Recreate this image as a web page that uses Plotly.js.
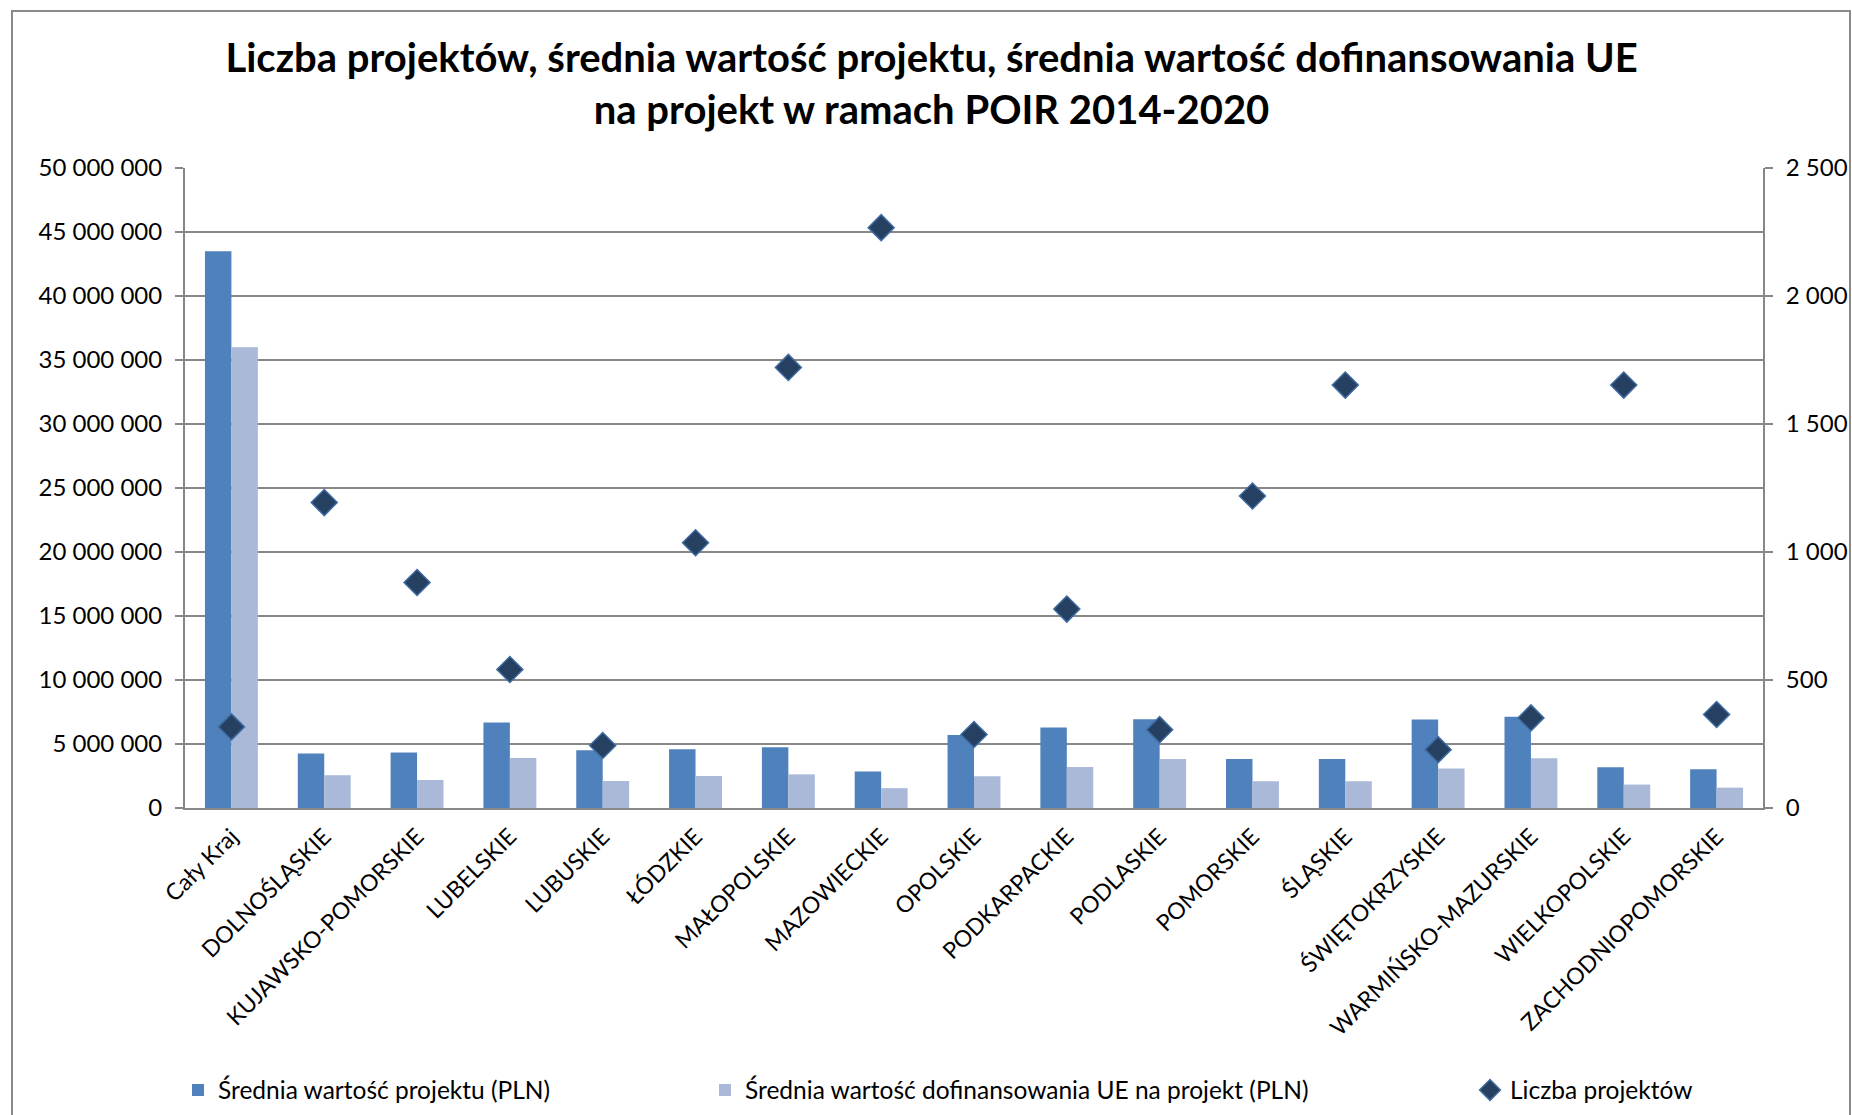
<!DOCTYPE html>
<html>
<head>
<meta charset="utf-8">
<script src="https://cdn.plot.ly/plotly-3.0.1.min.js"></script>
<style>
  html, body { margin: 0; padding: 0; background: #ffffff; overflow: hidden; }
  #chart { width: 1852px; height: 1115px; }
</style>
</head>
<body>
<div id="chart"></div>
<script>
// ---- data ----
const categories = [
  "Cały Kraj", "DOLNOŚLĄSKIE", "KUJAWSKO-POMORSKIE", "LUBELSKIE", "LUBUSKIE",
  "ŁÓDZKIE", "MAŁOPOLSKIE", "MAZOWIECKIE", "OPOLSKIE", "PODKARPACKIE",
  "PODLASKIE", "POMORSKIE", "ŚLĄSKIE", "ŚWIĘTOKRZYSKIE", "WARMIŃSKO-MAZURSKIE",
  "WIELKOPOLSKIE", "ZACHODNIOPOMORSKIE"
];
const avgProjectValue = [
  43500000, 4250000, 4330000, 6680000, 4510000,
  4590000, 4750000, 2850000, 5710000, 6290000,
  6940000, 3830000, 3830000, 6910000, 7120000,
  3180000, 3030000
];
const avgEuFunding = [
  36000000, 2560000, 2190000, 3910000, 2110000,
  2500000, 2630000, 1550000, 2480000, 3210000,
  3830000, 2090000, 2090000, 3080000, 3890000,
  1830000, 1590000
];
const projectCount = [
  317, 1193, 881, 541, 244,
  1036, 1721, 2267, 287, 777,
  306, 1219, 1652, 228, 352,
  1652, 365
];
const seriesNames = [
  "Średnia wartość projektu (PLN)",
  "Średnia wartość dofinansowania UE na projekt (PLN)",
  "Liczba projektów"
];
const titleText = "Liczba projektów, średnia wartość projektu, średnia wartość dofinansowania UE<br>na projekt w ramach POIR 2014-2020";

// ---- layout helpers ----
const W = 1852, H = 1115;
const M = { l: 185, r: 89, t: 168, b: 307, autoexpand: false };
const PW = W - M.l - M.r, PH = H - M.t - M.b;
const px = x => (x - M.l) / PW;
const py = y => (H - M.b - y) / PH;

const FONT = "Lato, 'Open Sans', sans-serif";
const gridColor = "#888888";
const TICK_SIZE = 24;

const traces = [
  {
    type: "bar", name: seriesNames[0], x: categories, y: avgProjectValue,
    marker: { color: "#4F81BD", line: { width: 0 } }, legend: "legend"
  },
  {
    type: "bar", name: seriesNames[1], x: categories, y: avgEuFunding,
    marker: { color: "#AAB9D8", line: { width: 0 } }, legend: "legend2"
  },
  {
    type: "scatter", mode: "markers", name: seriesNames[2], x: categories, y: projectCount,
    yaxis: "y2",
    marker: { symbol: "diamond", size: 20, color: "#254061", line: { color: "#3F6AA0", width: 1.5 } },
    legend: "legend3"
  }
];

function legendAt(xPix) {
  return {
    orientation: "h", x: px(xPix), xanchor: "left", y: py(1090), yanchor: "middle",
    font: { family: FONT, size: 24.5, color: "#000" }, bgcolor: "rgba(0,0,0,0)",
    itemwidth: 30, tracegroupgap: 0
  };
}

const layout = {
  width: W, height: H,
  margin: M,
  paper_bgcolor: "#ffffff", plot_bgcolor: "#ffffff",
  separators: ", ",
  font: { family: FONT, size: TICK_SIZE, color: "#000" },
  title: {
    text: titleText,
    x: 0.503, xref: "container", xanchor: "center",
    y: 1 - 72 / H, yref: "container", yanchor: "middle",
    font: { family: FONT, size: 40, color: "#000", weight: "bold" }
  },
  barmode: "group", bargap: 0.43, bargroupgap: 0,
  xaxis: {
    type: "category", range: [-0.5, categories.length - 0.5], autorange: false,
    tickangle: -45, showgrid: false,
    showline: true, linecolor: gridColor, linewidth: 2,
    ticks: "", ticklabelstandoff: 4,
    tickfont: { family: FONT, size: 23, color: "#000" },
    automargin: false
  },
  yaxis: {
    range: [0, 50000000], dtick: 5000000, tick0: 0, tickformat: ",d",
    showgrid: true, gridcolor: gridColor, gridwidth: 2,
    showline: true, linecolor: gridColor, linewidth: 2,
    ticks: "outside", ticklen: 8, tickcolor: gridColor, tickwidth: 2,
    ticklabelstandoff: 8,
    zeroline: false, tickfont: { family: FONT, size: TICK_SIZE, color: "#000" },
    automargin: false
  },
  yaxis2: {
    range: [0, 2500], dtick: 500, tick0: 0, tickformat: ",d",
    overlaying: "y", side: "right", showgrid: false,
    showline: true, linecolor: gridColor, linewidth: 2,
    ticks: "outside", ticklen: 8, tickcolor: gridColor, tickwidth: 2,
    ticklabelstandoff: 8,
    zeroline: false, tickfont: { family: FONT, size: TICK_SIZE, color: "#000" },
    automargin: false
  },
  showlegend: true,
  legend: legendAt(178),
  legend2: legendAt(705),
  legend3: legendAt(1470),
  shapes: [
    {
      type: "rect", xref: "paper", yref: "paper",
      x0: px(12), x1: px(1850), y0: py(1130), y1: py(11),
      line: { color: "#8a8a8a", width: 2 }, fillcolor: "rgba(0,0,0,0)", layer: "below"
    }
  ]
};

Plotly.newPlot("chart", traces, layout, { displayModeBar: false, staticPlot: true });
</script>
</body>
</html>
